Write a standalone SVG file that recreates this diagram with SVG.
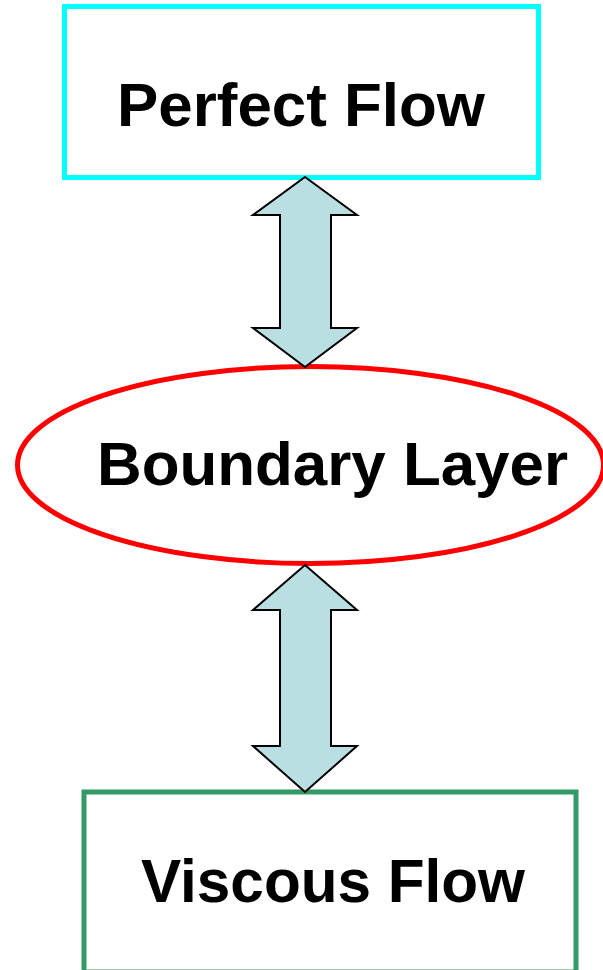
<svg xmlns="http://www.w3.org/2000/svg" width="603" height="970" viewBox="0 0 603 970">
  <style>
    .label { font-family: "Liberation Sans", Arial, sans-serif; font-weight: bold; font-size: 61px; fill: #000; }
    .node { fill: #fff; stroke-width: 5; }
    .link { fill: #B9DFE2; stroke: #000; stroke-width: 2; stroke-linejoin: miter; }
  </style>
  <rect width="603" height="970" fill="#fff"/>

  <g id="perfect-flow">
    <rect class="node" x="64.5" y="6.5" width="474" height="171" stroke="#00FFFF"/>
    <text class="label" x="117" y="126" textLength="368" lengthAdjust="spacingAndGlyphs">Perfect Flow</text>
  </g>

  <g id="boundary-layer">
    <ellipse class="node" cx="310.5" cy="465" rx="293" ry="98.5" stroke="#FF0000"/>
    <text class="label" x="97" y="485" textLength="471" lengthAdjust="spacingAndGlyphs">Boundary Layer</text>
  </g>

  <g id="viscous-flow">
    <rect class="node" x="84" y="792" width="492" height="180" stroke="#339966" stroke-width="5.5"/>
    <text class="label" x="141" y="902" textLength="384" lengthAdjust="spacingAndGlyphs">Viscous Flow</text>
  </g>

  <g id="connectors">
    <path class="link" d="M305,177 L357,215 L331,215 L331,328 L357,328 L305,367 L253,328 L280,328 L280,215 L253,215 Z"/>
    <path class="link" d="M305,565 L357,610 L331,610 L331,746 L357,746 L305,792 L253,746 L280,746 L280,610 L253,610 Z"/>
  </g>
</svg>
